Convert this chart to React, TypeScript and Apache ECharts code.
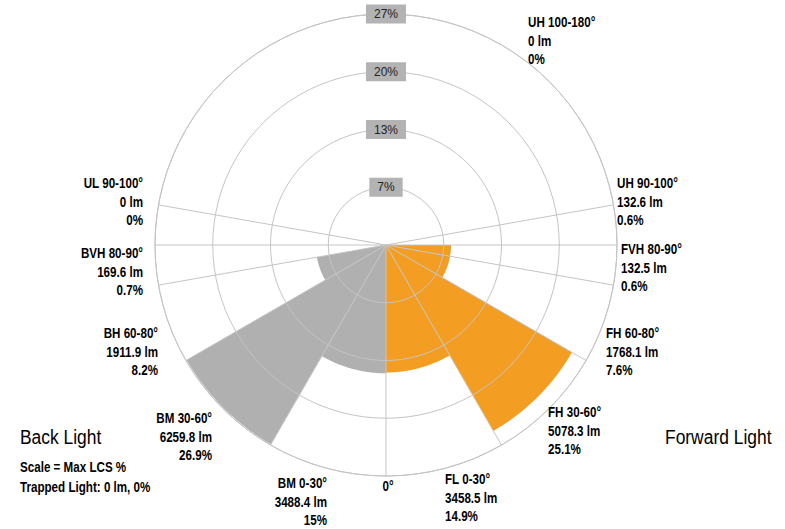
import React, { useEffect, useRef } from "react";
import * as echarts from "echarts";

// ---- data ----
const zoneBounds: [number, number][] = [[0, 30], [30, 60], [60, 80], [80, 90], [90, 100], [100, 180]];
const forwardNames = ["FL 0-30°", "FH 30-60°", "FH 60-80°", "FVH 80-90°", "UH 90-100°", "UH 100-180°"];
const forwardLumens = ["3458.5 lm", "5078.3 lm", "1768.1 lm", "132.5 lm", "132.6 lm", "0 lm"];
const forwardPercents = ["14.9%", "25.1%", "7.6%", "0.6%", "0.6%", "0%"];
// radius of each drawn forward wedge (in % of scale)
const forwardDrawn = [14.9, 25.1, 7.6, 7.6, 0.6, 0];

const backNames = ["BM 0-30°", "BM 30-60°", "BH 60-80°", "BVH 80-90°", "UL 90-100°", "UL 100-180°"];
const backLumens = ["3488.4 lm", "6259.8 lm", "1911.9 lm", "169.6 lm", "0 lm", "0 lm"];
const backPercents = ["15%", "26.9%", "8.2%", "0.7%", "0%", "0%"];
const backDrawn = [15, 26.9, 8.2, 0.7, 0, 0];

const radialBoundaries = [0, 30, 60, 80, 90, 100];
const scaleMax = 27;
const ringLabels = ["7%", "13%", "20%", "27%"];

const sideColors = ["#F39E22", "#B0B0B0"];

// label layout (positions only)
const forwardLabelLayout = [
  { x: 445, y: 470, align: "left" },
  { x: 548, y: 403, align: "left" },
  { x: 606, y: 324, align: "left" },
  { x: 621, y: 240, align: "left" },
  { x: 617, y: 174, align: "left" },
  { x: 528, y: 13, align: "left" },
];
const backLabelLayout = [
  { x: 327, y: 474, align: "right" },
  { x: 212, y: 409, align: "right" },
  { x: 158, y: 324, align: "right" },
  { x: 143, y: 244, align: "right" },
  { x: 143, y: 174, align: "right" },
  null,
];

const FONT = "'Liberation Sans', Arial, sans-serif";
const NARROW_SCALE = 0.83;

// forward angle f (from nadir) -> polar angle; back angle b -> polar angle
const fwdAngle = (f: number) => 180 + f;
const backAngle = (b: number) => 180 - b;

export default function App() {
  const ref = useRef<HTMLDivElement>(null);
  useEffect(() => {
    document.body.style.margin = "0";
    const chart = echarts.init(ref.current!, null, { renderer: "svg" });

    const sectorData: any[] = [];
    zoneBounds.forEach(([a, b], i) => {
      sectorData.push([fwdAngle(a), fwdAngle(b), forwardDrawn[i], 0]);
      sectorData.push([backAngle(b), backAngle(a), backDrawn[i], 1]);
    });

    const lineData: any[] = [];
    radialBoundaries.forEach((f) => lineData.push([fwdAngle(f)]));
    radialBoundaries.filter((b) => b > 0).forEach((b) => lineData.push([backAngle(b)]));

    const zoneTexts = (names: string[], lumens: string[], pcts: string[], layout: any[]) => {
      const out: any[] = [];
      layout.forEach((l, i) => {
        if (!l) return;
        out.push({
          type: "text",
          x: l.x,
          y: l.y,
          z: 100,
          scaleX: NARROW_SCALE,
          style: {
            text: `${names[i]}\n${lumens[i]}\n${pcts[i]}`,
            fill: "#000",
            font: `bold 14px ${FONT}`,
            lineHeight: 18.5,
            align: l.align,
            verticalAlign: "top",
          },
        });
      });
      return out;
    };

    const option: any = {
      animation: false,
      polar: { center: [386, 245], radius: 231 },
      angleAxis: {
        type: "value",
        min: 0,
        max: 360,
        startAngle: 90,
        clockwise: false,
        z: 5,
        axisLine: { show: true, lineStyle: { color: "#C4C4C4", width: 1 } },
        axisTick: { show: false },
        axisLabel: { show: false },
        splitLine: { show: false },
      },
      radiusAxis: {
        type: "value",
        min: 0,
        max: scaleMax,
        interval: scaleMax / 4,
        z: 5,
        axisLine: { show: false },
        axisTick: { show: false },
        splitLine: { show: true, lineStyle: { color: "#C4C4C4", width: 1 } },
        axisLabel: {
          showMinLabel: false,
          margin: 0,
          align: "center",
          verticalAlign: "middle",
          color: "#222",
          fontSize: 12,
          fontFamily: FONT,
          backgroundColor: "#B3B3B3",
          padding: [4, 8, 3, 8],
          formatter: (v: number) => {
            const idx = Math.round(v / (scaleMax / 4)) - 1;
            return ringLabels[idx] ?? "";
          },
        },
      },
      series: [
        {
          type: "custom",
          coordinateSystem: "polar",
          z: 1,
          data: sectorData,
          renderItem: (params: any, api: any) => {
            const a0 = api.value(0);
            const a1 = api.value(1);
            const r = api.value(2);
            const side = api.value(3);
            if (!(r > 0)) return null;
            const pts: number[][] = [api.coord([0, a0])];
            for (let a = a0; a < a1; a += 0.5) pts.push(api.coord([r, a]));
            pts.push(api.coord([r, a1]));
            return {
              type: "polygon",
              shape: { points: pts },
              style: { fill: sideColors[side], stroke: null },
            };
          },
        },
        {
          type: "custom",
          coordinateSystem: "polar",
          z: 6,
          data: lineData,
          renderItem: (params: any, api: any) => {
            const a = api.value(0);
            const p0 = api.coord([0, a]);
            const p1 = api.coord([scaleMax, a]);
            return {
              type: "line",
              shape: { x1: p0[0], y1: p0[1], x2: p1[0], y2: p1[1] },
              style: { stroke: "#C4C4C4", lineWidth: 1 },
            };
          },
        },
      ],
      graphic: [
        ...zoneTexts(forwardNames, forwardLumens, forwardPercents, forwardLabelLayout),
        ...zoneTexts(backNames, backLumens, backPercents, backLabelLayout),
        {
          type: "text",
          x: 388,
          y: 486,
          z: 100,
          scaleX: NARROW_SCALE,
          style: { text: "0°", fill: "#000", font: `bold 14px ${FONT}`, align: "center", verticalAlign: "middle" },
        },
        {
          type: "text",
          x: 20,
          y: 437,
          z: 100,
          scaleX: NARROW_SCALE,
          style: { text: "Back Light", fill: "#000", font: `21px ${FONT}`, align: "left", verticalAlign: "middle" },
        },
        {
          type: "text",
          x: 665,
          y: 437,
          z: 100,
          scaleX: NARROW_SCALE,
          style: { text: "Forward Light", fill: "#000", font: `21px ${FONT}`, align: "left", verticalAlign: "middle" },
        },
        {
          type: "text",
          x: 20,
          y: 457,
          z: 100,
          scaleX: NARROW_SCALE,
          style: {
            text: "Scale = Max LCS %\nTrapped Light: 0 lm, 0%",
            fill: "#000",
            font: `bold 14px ${FONT}`,
            lineHeight: 20,
            align: "left",
            verticalAlign: "top",
          },
        },
      ],
    };
    chart.setOption(option);
    return () => chart.dispose();
  }, []);
  return <div ref={ref} style={{ width: 785, height: 529 }} />;
}
